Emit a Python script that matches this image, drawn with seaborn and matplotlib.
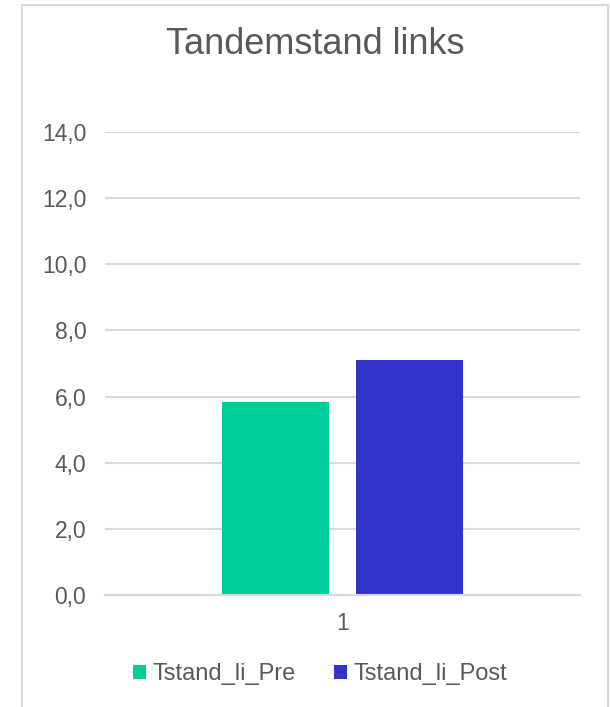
import pandas as pd
import numpy as np
import matplotlib.pyplot as plt
import seaborn as sns
from matplotlib.patches import Rectangle, Patch
from matplotlib.ticker import FuncFormatter

# Chart data
categories = ['1']
series = ['Tstand_li_Pre', 'Tstand_li_Post']
values = [5.85, 7.1]
colors = ['#00CC99', '#3333CC']
y_ticks = [0, 2, 4, 6, 8, 10, 12, 14]

data = pd.DataFrame({'cat': categories * len(series), 'series': series, 'value': values})

sns.set_theme(style='white')
plt.rcParams['font.family'] = ['Liberation Sans', 'DejaVu Sans']
text_col = '#595959'

fig = plt.figure(figsize=(6.1, 7.07), dpi=100)
# outer chart frame
fig.patches.append(Rectangle((22 / 610, -0.05), 586 / 610, 1.05 - 5 / 707, transform=fig.transFigure,
                             fill=False, edgecolor='#D9D9D9', linewidth=1.5))

ax = fig.add_axes([105 / 610, 1 - 595 / 707, 475 / 610, 463 / 707])
sns.barplot(data=data, x='cat', y='value', hue='series', palette=colors, width=0.568, gap=0.207,
            saturation=1, linewidth=0, ax=ax, legend=False)

ax.set_ylim(0, 14)
ax.set_xlim(-0.5, 0.5)
ax.set_yticks(y_ticks)
ax.yaxis.set_major_formatter(FuncFormatter(lambda v, p: f'{v:.1f}'.replace('.', ',')))
ax.yaxis.grid(True, color='#D9D9D9', linewidth=1.5)
ax.set_axisbelow(True)
for s in ['top', 'right', 'left']:
    ax.spines[s].set_visible(False)
ax.spines['bottom'].set_color('#D9D9D9')
ax.spines['bottom'].set_linewidth(1.5)
ax.tick_params(axis='y', length=0, pad=13.5, labelsize=16.5, labelcolor=text_col)
ax.tick_params(axis='x', length=0, pad=12, labelsize=16.5, labelcolor=text_col)
ax.set_xlabel('')
ax.set_ylabel('')

fig.text(315 / 610, 1 - 45 / 707, 'Tandemstand links', ha='center', va='center', fontsize=26, color=text_col)

handles = [Patch(facecolor=c, edgecolor='none') for c in colors]
fig.legend(handles, series, loc='center', bbox_to_anchor=(320 / 610, 1 - 674 / 707), ncol=2, frameon=False,
           fontsize=17, labelcolor=text_col, handlelength=0.55, handleheight=0.55, handletextpad=0.25,
           columnspacing=1.65)

fig.savefig('out.png', dpi=100, facecolor='white')
